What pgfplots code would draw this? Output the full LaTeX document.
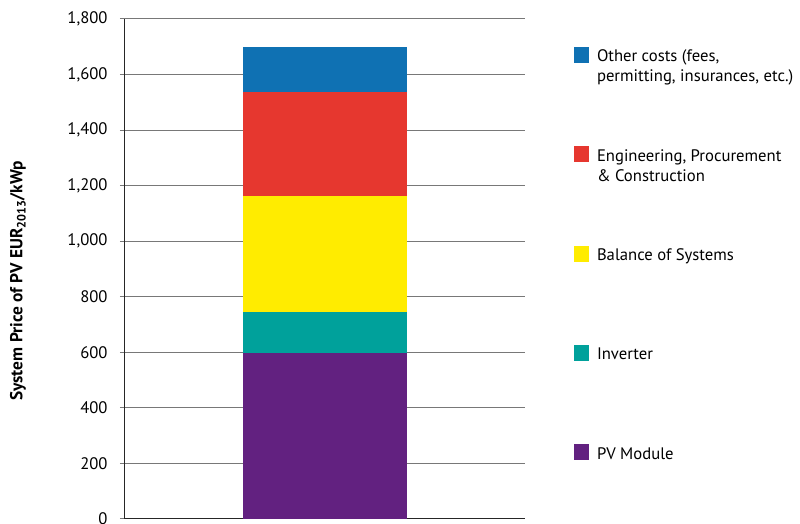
\documentclass[border=0pt]{standalone}
\usepackage{pgfplots}
\pgfplotsset{compat=1.18}
\usepackage{fontspec}
\setmainfont{PT Sans}
\usetikzlibrary{calc}
\definecolor{cOther}{HTML}{0F71B3}
\definecolor{cEPC}{HTML}{E6372F}
\definecolor{cBOS}{HTML}{FFEC00}
\definecolor{cInv}{HTML}{00A19B}
\definecolor{cPV}{HTML}{622180}
\definecolor{gridgray}{RGB}{120,120,120}
\begin{document}
\fontsize{12.5pt}{15pt}\selectfont
\begin{tikzpicture}
\begin{axis}[
  name=ax,
  width=300pt, height=375pt,
  scale only axis,
  ybar stacked,
  bar width=122.25pt,
  xmin=-1, xmax=1,
  ymin=0, ymax=1800,
  ytick={0,200,...,1800},
  xtick=\empty,
  axis x line*=bottom,
  axis y line*=left,
  axis line style={line width=0.75pt, black!85},
  tick align=outside,
  major tick length=3.75pt,
  ytick style={gridgray, line width=0.75pt},
  ymajorgrids,
  grid style={gridgray, line width=0.75pt},
  /pgf/number format/.cd, 1000 sep={,}, assume math mode=true,
  /pgfplots/.cd,
  yticklabel style={font=\fontsize{12.5pt}{15pt}\selectfont, xshift=-5pt},
  ylabel={System Price of PV EUR\textsubscript{2013}/kWp},
  every axis y label/.style={at={(axis description cs:-0.2675,0.476)}, rotate=90, anchor=center, font=\fontsize{13pt}{15pt}\selectfont\bfseries},
  reverse legend,
  legend image code/.code={\fill[#1] (0pt,-0.75pt) rectangle (11.25pt,11.25pt);},
  legend style={draw=none, fill=none, inner sep=0pt, outer sep=0pt,
    at={(axis description cs:1,1)}, anchor=north west,
    xshift=36.75pt, yshift=-21pt, column sep=6pt, row sep=0pt,
    nodes={inner sep=0pt, text height=11.25pt, text depth=63.25pt, anchor=base west,
      font=\fontsize{12.5pt}{15pt}\selectfont}},
  legend cell align=left,
]
\addplot[fill=cPV, draw=none] coordinates {(0,598)};
\addlegendentry{PV Module}
\addplot[fill=cInv, draw=none] coordinates {(0,148)};
\addlegendentry{Inverter}
\addplot[fill=cBOS, draw=none] coordinates {(0,417)};
\addlegendentry{Balance of Systems}
\addplot[fill=cEPC, draw=none] coordinates {(0,375)};
\addlegendentry{\begin{tabular}[t]{@{}l@{}}Engineering, Procurement\\ \& Construction\end{tabular}}
\addplot[fill=cOther, draw=none] coordinates {(0,162)};
\addlegendentry{\begin{tabular}[t]{@{}l@{}}Other costs (fees,\\ permitting, insurances, etc.)\end{tabular}}
\end{axis}
\pgfresetboundingbox
\path[use as bounding box] ($(ax.south west)+(-93.75pt,-3.75pt)$) rectangle ($(ax.north west)+(506.25pt,14.25pt)$);
\end{tikzpicture}
\end{document}
